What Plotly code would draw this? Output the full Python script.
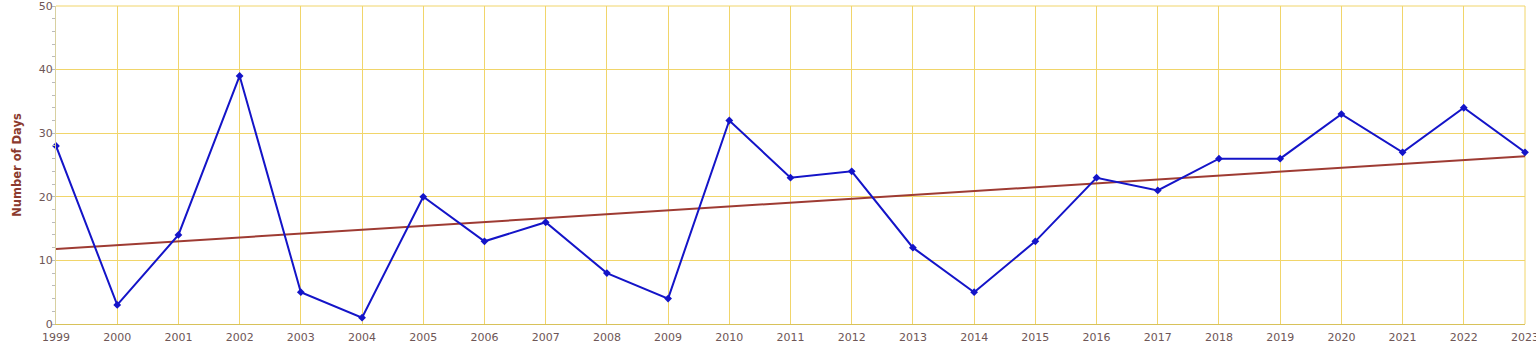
import numpy as np
import plotly.graph_objects as go

years = list(range(1999, 2024))
days = [28, 3, 14, 39, 5, 1, 20, 13, 16, 8, 4, 32, 23, 24, 12, 5, 13, 23, 21, 26, 26, 33, 27, 34, 27]

coef = np.polyfit(years, days, 1)
trend = [coef[0] * y + coef[1] for y in [years[0], years[-1]]]

fig = go.Figure()
fig.add_trace(go.Scatter(x=[years[0], years[-1]], y=trend, mode="lines",
                         line=dict(color="#9e3b33", width=2), showlegend=False, cliponaxis=False))
fig.add_trace(go.Scatter(x=years, y=days, mode="lines+markers",
                         line=dict(color="#1414c8", width=2),
                         marker=dict(symbol="diamond", size=6, color="#1414c8"),
                         showlegend=False, cliponaxis=False))

grid = "#f1d56a"
fig.update_layout(
    width=1536, height=361,
    margin=dict(l=56, r=11, t=6, b=37, autoexpand=False),
    paper_bgcolor="white", plot_bgcolor="white",
    font=dict(family="DejaVu Sans", size=11, color="#6e5656"),
)
fig.update_xaxes(range=[1999, 2023], tickmode="array", tickvals=years,
                 ticktext=[str(y) for y in years], automargin=False,
                 ticklabeloverflow="allow",
                 showgrid=True, gridcolor=grid, gridwidth=1,
                 showline=True, linecolor="#d8c25a", linewidth=1, mirror=False,
                 zeroline=False, ticks="outside", ticklen=3, tickcolor="rgba(0,0,0,0)",
                 tickfont=dict(size=11, color="#6e5656"))
fig.update_yaxes(range=[0, 50], tickmode="array", tickvals=[0, 10, 20, 30, 40, 50],
                 showgrid=True, gridcolor=grid, gridwidth=1, automargin=False,
                 ticklabeloverflow="allow",
                 showline=True, linecolor="#d8d0a0", linewidth=1, zeroline=False,
                 ticks="", minor=dict(dtick=2, ticks="outside", ticklen=3, tickcolor="#bbbbbb", showgrid=False),
                 title=dict(text="<b>Number of Days</b>", font=dict(size=11.5, color="#8b3a2e"), standoff=14),
                 tickfont=dict(size=11, color="#6e5656"))
fig.add_shape(type="line", xref="paper", yref="paper", x0=0, x1=1, y0=1, y1=1,
              line=dict(color=grid, width=1), layer="below")
fig.add_shape(type="line", xref="paper", yref="paper", x0=1, x1=1, y0=0, y1=1,
              line=dict(color=grid, width=1), layer="below")
fig.write_html("out.html", config={"displayModeBar": False},
               post_script="document.body.style.margin='0';")
